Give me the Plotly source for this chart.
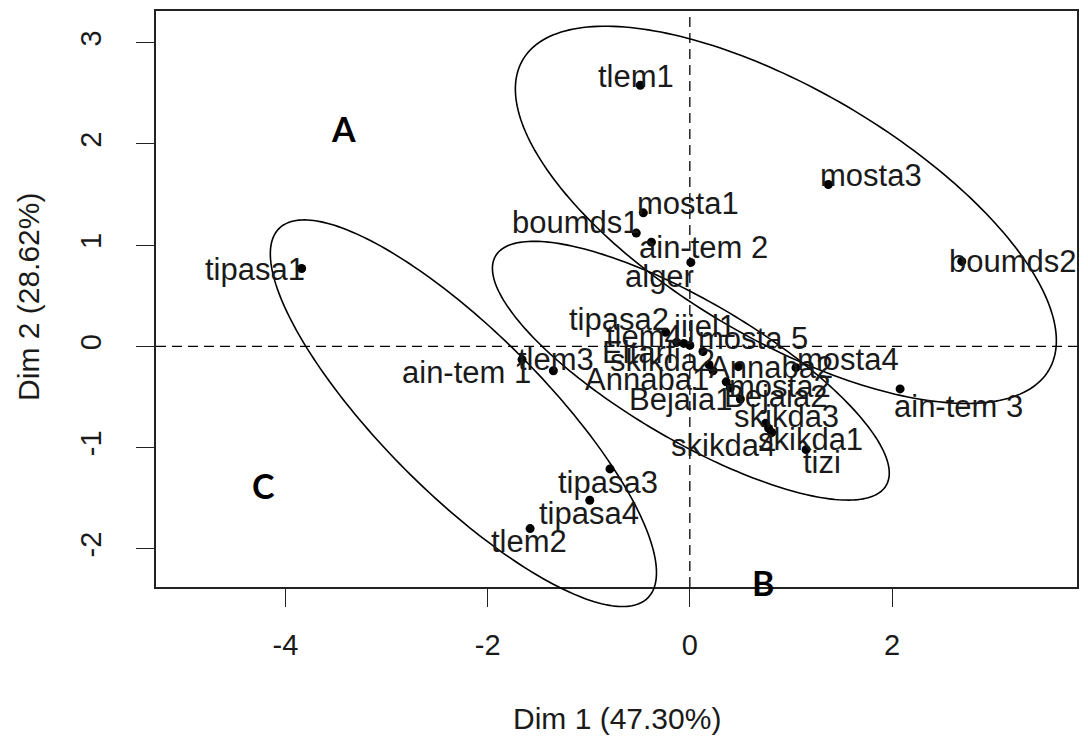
import numpy as np
import plotly.graph_objects as go

# ---- data (individual coordinates on PCA dims) ----
names = ["tlem1", "mosta1", "boumds1", "ain-tem 2", "alger", "mosta3", "boumds2",
         "ain-tem 3", "mosta4", "tipasa1", "tipasa3", "tipasa4", "tlem2", "ain-tem 1",
         "tlem3", "tipasa2", "tlem4", "jijel1", "Eltarf", "mosta 5", "skikda2",
         "Annaba1", "Annaba2", "mosta2", "Bejaia1", "Bejaia2", "skikda3", "skikda1",
         "skikda4", "tizi"]
dim1 = [-0.49, -0.46, -0.53, -0.38, 0.01, 1.37, 2.69,
        2.08, 1.05, -3.84, -0.79, -0.99, -1.58, -1.66,
        -1.35, -0.24, -0.13, -0.06, 0.00, 0.13, 0.19,
        0.23, 0.48, 0.36, 0.40, 0.50, 0.75, 0.81,
        0.78, 1.15]
dim2 = [2.58, 1.32, 1.12, 1.03, 0.83, 1.60, 0.84,
        -0.42, -0.21, 0.77, -1.21, -1.52, -1.80, -0.13,
        -0.24, 0.14, 0.04, 0.03, 0.01, -0.05, -0.18,
        -0.24, -0.20, -0.35, -0.41, -0.52, -0.76, -0.85,
        -0.81, -1.02]

x_ticks = [-4, -2, 0, 2]
x_ticktext = ["-4", "-2", "0", "2"]
y_ticks = [-2, -1, 0, 1, 2, 3]
y_ticktext = ["-2", "-1", "0", "1", "2", "3"]
x_title = "Dim 1 (47.30%)"
y_title = "Dim 2 (28.62%)"
group_letters = ["A", "B", "C"]

# ---- layout / styling (label offsets in pixels, screen-down positive) ----
label_dx = [-4, 45, -60, 52, -31, 43, 51, 58, 52, -47, -2, -1, -1, -56,
            3, -47, -33, 21, -51, 50, -47, -66, 33, 54, -50, 35, 21, 39, -45, 16]
label_dy = [-9, -9, -11, 5, 14, -9, 0, 18, -8, 1, 14, 13, 13, 13,
            -11, -13, -6, -17, 7, -13, -4, 9, 1, 5, 12, -3, -7, 7, 17, 13]

x_range = [-5.281, 3.830]
y_range = [-2.377, 3.314]

FONT = "Liberation Sans, Arial, sans-serif"
INK = "#1a1a1a"

fig = go.Figure()
fig.add_trace(go.Scatter(
    x=dim1, y=dim2, mode="markers", text=names, hoverinfo="text",
    marker=dict(color="black", size=9), showlegend=False, cliponaxis=False))

for n, x, y, dx, dy in zip(names, dim1, dim2, label_dx, label_dy):
    fig.add_annotation(x=x, y=y, text=n, showarrow=False, xshift=dx, yshift=-dy,
                       xanchor="center", yanchor="middle",
                       font=dict(family=FONT, size=31, color=INK))

# dashed reference lines
fig.add_shape(type="line", xref="x", yref="paper", x0=0, x1=0, y0=0, y1=1,
              line=dict(color="black", width=1.3, dash="10px,6px"))
fig.add_shape(type="line", xref="paper", yref="y", x0=0, x1=1, y0=0, y1=0,
              line=dict(color="black", width=1.3, dash="10px,6px"))

# hand-drawn group ellipses (center x, center y, semi-major, semi-minor, angle deg)
ellipses = [(0.95, 1.30, 3.02, 1.23, -30.5),
            (0.01, -0.24, 2.24, 0.685, -30.4),
            (-2.24, -0.66, 2.58, 0.80, -45.0)]

def ellipse_path(cx, cy, a, b, ang):
    t = np.linspace(0, 2 * np.pi, 240)
    th = np.radians(ang)
    xs = cx + a * np.cos(t) * np.cos(th) - b * np.sin(t) * np.sin(th)
    ys = cy + a * np.cos(t) * np.sin(th) + b * np.sin(t) * np.cos(th)
    px = (xs - x_range[0]) / (x_range[1] - x_range[0])
    py = (ys - y_range[0]) / (y_range[1] - y_range[0])
    return "M " + " L ".join(f"{u:.5f},{v:.5f}" for u, v in zip(px, py)) + " Z"

for e in ellipses:
    fig.add_shape(type="path", xref="paper", yref="paper", path=ellipse_path(*e),
                  line=dict(color="black", width=1.6))

letter_pos = [(-3.43, 2.15), (0.72, -2.33), (-4.22, -1.37)]
for L, (lx, ly) in zip(group_letters, letter_pos):
    fig.add_annotation(x=lx, y=ly, text=f"<b>{L}</b>", showarrow=False,
                       font=dict(family="Lato, Open Sans, sans-serif", size=34, color="black"))

# axis titles
fig.add_annotation(xref="paper", yref="paper", x=0.5005, y=-0.229, text=x_title,
                   showarrow=False, xanchor="center", yanchor="middle",
                   font=dict(family=FONT, size=30, color=INK))
fig.add_annotation(xref="paper", yref="paper", x=-0.1387, y=0.504, text=y_title,
                   showarrow=False, xanchor="center", yanchor="middle", textangle=-90,
                   font=dict(family=FONT, size=30, color=INK))

axis_common = dict(showgrid=False, zeroline=False, showline=True, mirror=True,
                   linecolor="#222222", linewidth=1.6, ticks="outside", ticklen=18,
                   tickwidth=1.4, tickcolor="#222222",
                   tickfont=dict(family=FONT, size=29, color=INK))

fig.update_xaxes(range=x_range, tickvals=x_ticks, ticktext=x_ticktext,
                 ticklabelstandoff=13, **axis_common)
fig.update_yaxes(range=y_range, tickvals=y_ticks, ticktext=y_ticktext, tickangle=-90,
                 ticklabelstandoff=24, **axis_common)

fig.update_layout(width=1072, height=728, plot_bgcolor="white", paper_bgcolor="white",
                  margin=dict(l=148, r=1, t=2, b=149))

fig.write_html("out.html")
